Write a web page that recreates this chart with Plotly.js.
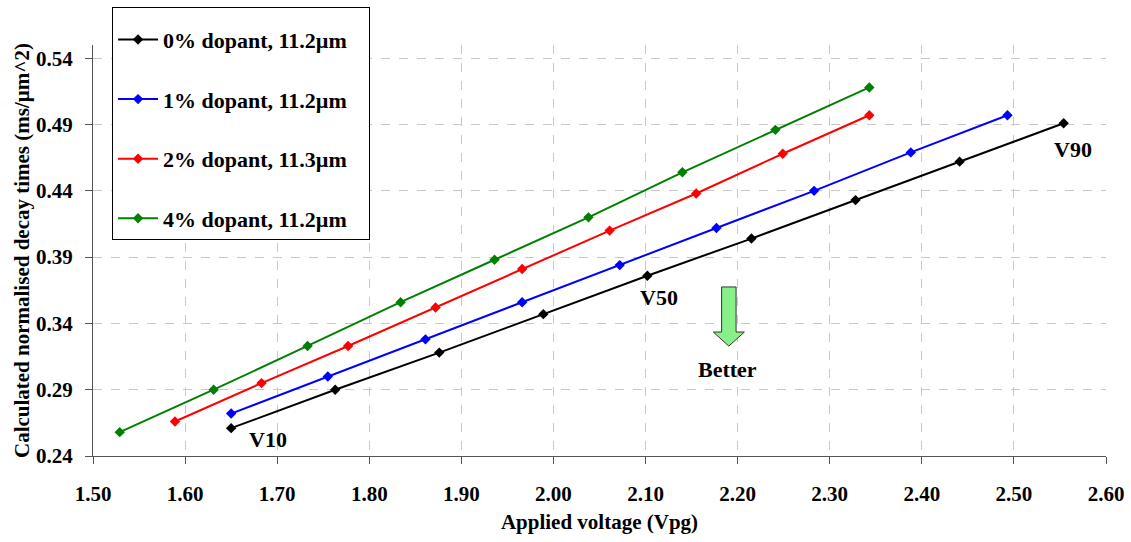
<!DOCTYPE html>
<html>
<head>
<meta charset="utf-8">
<script src="https://cdn.plot.ly/plotly-3.0.1.min.js"></script>
<style>html,body{margin:0;padding:0;background:#fff;}#chart{width:1131px;height:542px;}</style>
</head>
<body>
<div id="chart"></div>
<script>
const seriesNames = ["0% dopant, 11.2\u00b5m", "1% dopant, 11.2\u00b5m", "2% dopant, 11.3\u00b5m", "4% dopant, 11.2\u00b5m"];
const seriesColors = ["#000000", "#0000ff", "#ff0000", "#008000"];

const x0 = [1.650, 1.763, 1.876, 1.989, 2.102, 2.215, 2.328, 2.441, 2.554];
const y0 = [0.261, 0.290, 0.318, 0.347, 0.376, 0.404, 0.433, 0.462, 0.491];
const x1 = [1.650, 1.755, 1.861, 1.966, 2.072, 2.177, 2.283, 2.388, 2.493];
const y1 = [0.272, 0.300, 0.328, 0.356, 0.384, 0.412, 0.440, 0.469, 0.497];
const x2 = [1.589, 1.683, 1.777, 1.872, 1.966, 2.061, 2.155, 2.249, 2.343];
const y2 = [0.266, 0.295, 0.323, 0.352, 0.381, 0.410, 0.438, 0.468, 0.497];
const x4 = [1.529, 1.631, 1.733, 1.834, 1.936, 2.038, 2.140, 2.241, 2.343];
const y4 = [0.258, 0.290, 0.323, 0.356, 0.388, 0.420, 0.454, 0.486, 0.518];

const xTickVals = [1.5, 1.6, 1.7, 1.8, 1.9, 2.0, 2.1, 2.2, 2.3, 2.4, 2.5, 2.6];
const xTickText = ["1.50", "1.60", "1.70", "1.80", "1.90", "2.00", "2.10", "2.20", "2.30", "2.40", "2.50", "2.60"];
const yTickVals = [0.24, 0.29, 0.34, 0.39, 0.44, 0.49, 0.54];
const yTickText = ["0.24", "0.29", "0.34", "0.39", "0.44", "0.49", "0.54"];

const labelText = ["V10", "V50", "V90", "Better"];
const labelX = [1.690, 2.115, 2.5645, 2.189];
const labelY = [0.2521, 0.3599, 0.4715, 0.3056];

const xs = [x0, x1, x2, x4];
const ys = [y0, y1, y2, y4];

const FONT = "'Liberation Serif', 'Times New Roman', serif";
const PAD = "\u00a0\u00a0\u00a0";

const traces = xs.map((xv, i) => ({
  type: "scatter",
  mode: "lines+markers",
  x: xv,
  y: ys[i],
  name: seriesNames[i] + PAD,
  legendgroup: "g" + i,
  line: {color: seriesColors[i], width: 2},
  marker: {symbol: "diamond", size: 8, color: seriesColors[i]},
  hoverinfo: "x+y+name"
}));

const annotations = labelText.map((t, i) => ({
  x: labelX[i], y: labelY[i], xref: "x", yref: "y",
  text: t, showarrow: false,
  font: {family: FONT, size: 22, color: "#000", weight: 700}
}));

const layout = {
  width: 1131, height: 542,
  margin: {l: 93, r: 25, t: 45, b: 86, autoexpand: false},
  paper_bgcolor: "#fff", plot_bgcolor: "#fff",
  showlegend: true,
  legend: {
    x: 0.0188, y: 1.0917, xanchor: "left", yanchor: "top",
    bgcolor: "#fff", bordercolor: "#000", borderwidth: 1,
    font: {family: FONT, size: 22, color: "#000", weight: 700},
    title: {text: "\u00a0", font: {size: 8}},
    tracegroupgap: 28, itemwidth: 40
  },
  xaxis: {
    range: [1.5, 2.6],
    automargin: false,
    tickvals: xTickVals, ticktext: xTickText,
    showgrid: true, gridcolor: "#c8c8c8", griddash: "dash", gridwidth: 1,
    zeroline: false,
    showline: true, linecolor: "#555", linewidth: 1,
    ticks: "outside", ticklen: 7, tickcolor: "#555",
    ticklabelstandoff: 12,
    tickfont: {family: FONT, size: 21, color: "#000", weight: 700},
    title: {text: "Applied voltage (Vpg)", font: {family: FONT, size: 21, color: "#000", weight: 700}}
  },
  yaxis: {
    range: [0.24, 0.55],
    automargin: false,
    tickvals: yTickVals, ticktext: yTickText,
    showgrid: true, gridcolor: "#c8c8c8", griddash: "dash", gridwidth: 1,
    zeroline: false,
    showline: true, linecolor: "#555", linewidth: 1,
    ticks: "outside", ticklen: 7, tickcolor: "#555",
    ticklabelstandoff: 8,
    tickfont: {family: FONT, size: 21, color: "#000", weight: 700},
    title: {text: "Calculated normalised decay times (ms/\u00b5m^2)", font: {family: FONT, size: 21, color: "#000", weight: 700}}
  },
  annotations: annotations,
  shapes: [{
    type: "path", xref: "x", yref: "y",
    path: "M 2.1826 0.3675 L 2.1983 0.3675 L 2.1983 0.3335 L 2.2073 0.3335 L 2.1904 0.3229 L 2.1736 0.3335 L 2.1826 0.3335 Z",
    fillcolor: "#88f088", line: {color: "#333", width: 1}
  }]
};

Plotly.newPlot("chart", traces, layout, {displayModeBar: false, staticPlot: true});
</script>
</body>
</html>
